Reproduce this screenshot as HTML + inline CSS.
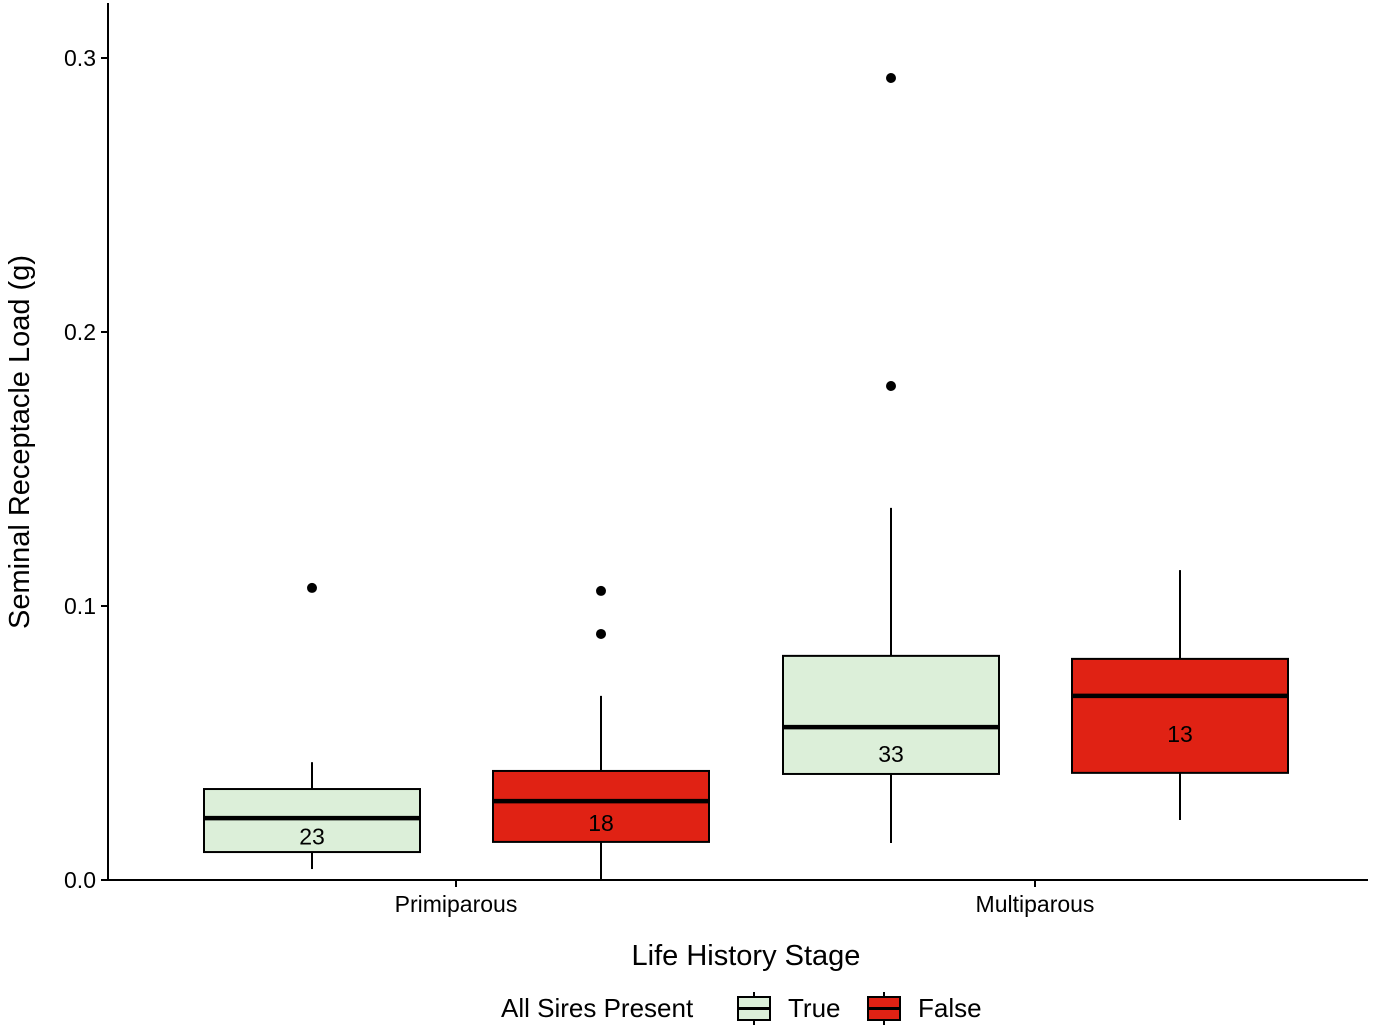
<!DOCTYPE html>
<html><head><meta charset="utf-8"><style>
body{margin:0;background:#fff}
svg text{font-family:"Liberation Sans",Arial,sans-serif;fill:#000}
</style></head><body>
<svg id="chart" width="1384" height="1029" viewBox="0 0 1384 1029" xmlns="http://www.w3.org/2000/svg">
<g id="plot"></g>
</svg>
<script>
const categories=["Primiparous","Multiparous"];
const groups=["True","False"];
const fills=["#dcefd9","#e02214"];
const yTicks=[0.0,0.1,0.2,0.3];
const yTickLabels=["0.0","0.1","0.2","0.3"];
// per box: [category index, group index]
const boxCat=[0,0,1,1];
const boxGrp=[0,1,0,1];
const whiskerLow=[0.004,0.0,0.0135,0.0219];
const q1=[0.0102,0.0139,0.0387,0.0391];
const median=[0.0226,0.0288,0.0558,0.0672];
const q3=[0.0332,0.0398,0.0818,0.0807];
const whiskerHigh=[0.043,0.0672,0.1358,0.1131];
const outliers=[[0.1066],[0.1055,0.0898],[0.1803,0.2927],[]];
const counts=["23","18","33","13"];
const countY=[0.0159,0.0208,0.0459,0.0533];

const NS="http://www.w3.org/2000/svg";
const g=document.getElementById('plot');
const svg=document.getElementById('chart');
const y=v=>880-v*2740;
const catX=i=>456+i*579;
const boxX=(c,k)=>catX(c)+(k===0?-144:145);
const halfW=108;
function mk(t,a,p){const e=document.createElementNS(NS,t);for(const k in a)e.setAttribute(k,a[k]);(p||g).appendChild(e);return e;}

// axes
let ax=mk('line',{x1:108,y1:3,x2:108,y2:880,stroke:'#000','stroke-width':2});


ax=mk('line',{x1:107,y1:880,x2:1368,y2:880,stroke:'#000','stroke-width':2});


yTicks.forEach((v,i)=>{
  const t=mk('line',{x1:101,x2:108,y1:y(v),y2:y(v),stroke:'#000','stroke-width':2});
  
  
  const l=mk('text',{x:96,y:y(v)+8,'text-anchor':'end','font-size':23});
  l.textContent=yTickLabels[i];
  
  
});
categories.forEach((c,i)=>{
  const t=mk('line',{x1:catX(i),x2:catX(i),y1:880,y2:887,stroke:'#000','stroke-width':2});
  
  
  const l=mk('text',{x:catX(i),y:912,'text-anchor':'middle','font-size':23});
  l.textContent=c;
  
  
});
// boxes
for(let i=0;i<q1.length;i++){
  const cx=boxX(boxCat[i],boxGrp[i]);
  const bg=mk('g',{});
  
  
  mk('line',{x1:cx,x2:cx,y1:y(whiskerLow[i]),y2:y(q1[i]),stroke:'#000','stroke-width':2},bg);
  mk('line',{x1:cx,x2:cx,y1:y(q3[i]),y2:y(whiskerHigh[i]),stroke:'#000','stroke-width':2},bg);
  mk('rect',{x:cx-halfW,y:y(q3[i]),width:2*halfW,height:y(q1[i])-y(q3[i]),fill:fills[boxGrp[i]],stroke:'#000','stroke-width':2},bg);
  mk('line',{x1:cx-halfW,x2:cx+halfW,y1:y(median[i]),y2:y(median[i]),stroke:'#000','stroke-width':4.5},bg);
  outliers[i].forEach(o=>{
    const d=mk('circle',{cx:cx,cy:y(o),r:5,fill:'#000'},bg);
    
    
  });
  const n=mk('text',{x:cx,y:y(countY[i])+8,'text-anchor':'middle','font-size':23},bg);
  n.textContent=counts[i];
  
  
}
// titles
let t=mk('text',{x:746,y:965,'text-anchor':'middle','font-size':29},svg);
t.textContent='Life History Stage';


t=mk('text',{x:0,y:0,'text-anchor':'middle','font-size':29,transform:'translate(29,442) rotate(-90)'},svg);
t.textContent='Seminal Receptacle Load (g)';


// legend
const lg=mk('g',{},svg);


t=mk('text',{x:501,y:1017,'font-size':26},lg);
t.textContent='All Sires Present';


const keyX=[738,868];
groups.forEach((gname,i)=>{
  const e=mk('g',{},lg);
  
  
  const kx=keyX[i];
  mk('line',{x1:kx+16,x2:kx+16,y1:992,y2:1025,stroke:'#000','stroke-width':2},e);
  mk('rect',{x:kx,y:997,width:32,height:23,fill:fills[i],stroke:'#000','stroke-width':2},e);
  mk('line',{x1:kx,x2:kx+32,y1:1008.5,y2:1008.5,stroke:'#000','stroke-width':3},e);
  const l=mk('text',{x:kx+50,y:1017,'font-size':26},e);
  l.textContent=gname;
});
</script>
</body></html>
